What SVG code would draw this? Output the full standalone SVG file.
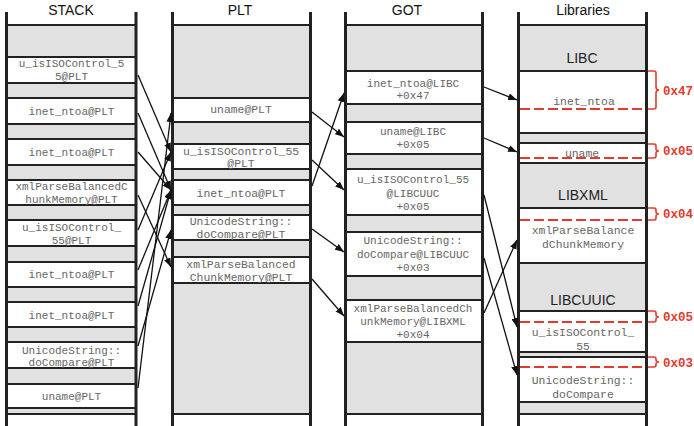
<svg xmlns="http://www.w3.org/2000/svg" width="694" height="426" viewBox="0 0 694 426">
  <style>
    .bg { fill: #e1e1e1; }
    .slot { fill: #ffffff; stroke: #222; stroke-width: 2; }
    .band { fill: #e1e1e1; stroke: #222; stroke-width: 2; }
    .wall { stroke: #222; stroke-width: 3; fill: none; }
    .rule { stroke: #222; stroke-width: 2; fill: none; }
    .head { font-family: "Liberation Sans", Arial, sans-serif; font-size: 14px; fill: #111; text-anchor: middle; }
    .lib { font-family: "Liberation Sans", Arial, sans-serif; font-size: 14px; fill: #222; text-anchor: middle; }
    .mono { font-family: "Liberation Mono", "Courier New", monospace; font-size: 11px; fill: #666; text-anchor: middle; }
    .mono12 { font-family: "Liberation Mono", "Courier New", monospace; font-size: 11.4px; fill: #666; text-anchor: middle; }
    .off { font-family: "Liberation Mono", "Courier New", monospace; font-size: 12.5px; font-weight: bold; fill: #e33a2c; }
    .dash { stroke: #e33a2c; stroke-width: 2; stroke-dasharray: 10 4; fill: none; }
    .brace { stroke: #e33a2c; stroke-width: 1.6; fill: none; }
    .conn { stroke: #111; stroke-width: 1.3; fill: none; marker-end: url(#arrow); }
  </style>
  <defs>
    <marker id="arrow" markerUnits="userSpaceOnUse" markerWidth="9" markerHeight="7" refX="9" refY="3.5" orient="auto">
      <path d="M0,0 L9,3.5 L0,7 z" fill="#111"/>
    </marker>
  </defs>

  <rect width="694" height="426" fill="#ffffff"/>

  <!-- column backgrounds -->
  <rect class="bg" x="7" y="25" width="129" height="389"/>
  <rect class="bg" x="172.5" y="25" width="138" height="389"/>
  <rect class="bg" x="345.5" y="25" width="137" height="389"/>
  <rect class="bg" x="518.5" y="25" width="128" height="389"/>

  <!-- headers -->
  <text class="head" x="71" y="15">STACK</text>
  <text class="head" x="240" y="15">PLT</text>
  <text class="head" x="407" y="15">GOT</text>
  <text class="head" x="583" y="15">Libraries</text>

  <!-- STACK slots -->
  <g id="stack-u_isISOControl-1">
    <rect class="slot" x="7" y="57" width="129" height="26"/>
    <text class="mono" x="71.5" y="67">u_isISOControl_5</text>
    <text class="mono" x="71.5" y="80">5@PLT</text>
  </g>
  <g id="stack-inet_ntoa-1">
    <rect class="slot" x="7" y="98" width="129" height="26"/>
    <text class="mono" x="71.5" y="115">inet_ntoa@PLT</text>
  </g>
  <g id="stack-inet_ntoa-2">
    <rect class="slot" x="7" y="139" width="129" height="26"/>
    <text class="mono" x="71.5" y="156">inet_ntoa@PLT</text>
  </g>
  <g id="stack-xmlParse">
    <rect class="slot" x="7" y="180" width="129" height="25"/>
    <text class="mono" x="71.5" y="190">xmlParseBalancedC</text>
    <text class="mono" x="71.5" y="203">hunkMemory@PLT</text>
  </g>
  <g id="stack-u_isISOControl-2">
    <rect class="slot" x="7" y="220" width="129" height="26"/>
    <text class="mono" x="71.5" y="231">u_isISOControl_</text>
    <text class="mono" x="71.5" y="244">55@PLT</text>
  </g>
  <g id="stack-inet_ntoa-3">
    <rect class="slot" x="7" y="262" width="129" height="25"/>
    <text class="mono" x="71.5" y="278">inet_ntoa@PLT</text>
  </g>
  <g id="stack-inet_ntoa-4">
    <rect class="slot" x="7" y="302" width="129" height="25"/>
    <text class="mono" x="71.5" y="319">inet_ntoa@PLT</text>
  </g>
  <g id="stack-doCompare">
    <rect class="slot" x="7" y="342" width="129" height="26"/>
    <text class="mono" x="71.5" y="354">UnicodeString::</text>
    <text class="mono" x="71.5" y="366">doCompare@PLT</text>
  </g>
  <g id="stack-uname">
    <rect class="slot" x="7" y="384" width="129" height="24"/>
    <text class="mono" x="71.5" y="400">uname@PLT</text>
  </g>

  <!-- PLT slots -->
  <g id="plt-uname">
    <rect class="slot" x="172.5" y="98" width="138" height="24"/>
    <text class="mono12" x="241" y="113">uname@PLT</text>
  </g>
  <g id="plt-u_isISOControl">
    <rect class="slot" x="172.5" y="144" width="138" height="25"/>
    <text class="mono12" x="241" y="154.5">u_isISOControl_55</text>
    <text class="mono12" x="241" y="167">@PLT</text>
  </g>
  <g id="plt-inet_ntoa">
    <rect class="slot" x="172.5" y="180" width="138" height="25"/>
    <text class="mono12" x="241" y="197">inet_ntoa@PLT</text>
  </g>
  <g id="plt-doCompare">
    <rect class="slot" x="172.5" y="215" width="138" height="25"/>
    <text class="mono12" x="241" y="225">UnicodeString::</text>
    <text class="mono12" x="241" y="238">doCompare@PLT</text>
  </g>
  <g id="plt-xmlParse">
    <rect class="slot" x="172.5" y="257" width="138" height="26"/>
    <text class="mono12" x="241" y="268">xmlParseBalanced</text>
    <text class="mono12" x="241" y="281">ChunkMemory@PLT</text>
  </g>

  <!-- GOT slots -->
  <g id="got-inet_ntoa">
    <rect class="slot" x="345.5" y="71" width="137" height="33"/>
    <text class="mono" x="413" y="87">inet_ntoa@LIBC</text>
    <text class="mono" x="413" y="99">+0x47</text>
  </g>
  <g id="got-uname">
    <rect class="slot" x="345.5" y="122" width="137" height="32"/>
    <text class="mono" x="413" y="135">uname@LIBC</text>
    <text class="mono" x="413" y="148">+0x05</text>
  </g>
  <g id="got-u_isISOControl">
    <rect class="slot" x="345.5" y="169" width="137" height="46"/>
    <text class="mono" x="413" y="183">u_isISOControl_55</text>
    <text class="mono" x="413" y="196.5">@LIBCUUC</text>
    <text class="mono" x="413" y="209.5">+0x05</text>
  </g>
  <g id="got-doCompare">
    <rect class="slot" x="345.5" y="232" width="137" height="44"/>
    <text class="mono" x="413" y="244">UnicodeString::</text>
    <text class="mono" x="413" y="258">doCompare@LIBCUUC</text>
    <text class="mono" x="413" y="271">+0x03</text>
  </g>
  <g id="got-xmlParse">
    <rect class="slot" x="345.5" y="300" width="137" height="42"/>
    <text class="mono" x="413" y="312">xmlParseBalancedCh</text>
    <text class="mono" x="413" y="325">unkMemory@LIBXML</text>
    <text class="mono" x="413" y="338">+0x04</text>
  </g>

  <!-- Libraries -->
  <g id="lib-libc">
    <text class="lib" x="582" y="63">LIBC</text>
    <rect class="slot" x="518.5" y="71" width="128" height="62"/>
    <text class="mono12" x="584" y="105">inet_ntoa</text>
    <line class="dash" x1="520" y1="109" x2="645" y2="109"/>
    <rect class="band" x="518.5" y="133" width="128" height="10"/>
    <rect class="slot" x="518.5" y="143" width="128" height="20"/>
    <text class="mono12" x="582" y="157">uname</text>
    <line class="dash" x1="520" y1="158" x2="645" y2="158"/>
  </g>
  <g id="lib-libxml">
    <text class="lib" x="583" y="200">LIBXML</text>
    <rect class="slot" x="518.5" y="208" width="128" height="55"/>
    <line class="dash" x1="520" y1="220" x2="645" y2="220"/>
    <text class="mono12" x="583" y="234">xmlParseBalance</text>
    <text class="mono12" x="583" y="248">dChunkMemory</text>
  </g>
  <g id="lib-libcuuic">
    <text class="lib" x="583" y="305">LIBCUUIC</text>
    <rect class="slot" x="518.5" y="311" width="128" height="41"/>
    <line class="dash" x1="520" y1="322" x2="645" y2="322"/>
    <text class="mono12" x="583" y="336">u_isISOControl_</text>
    <text class="mono12" x="583" y="349.5">55</text>
    <rect class="band" x="518.5" y="352" width="128" height="5"/>
    <rect class="slot" x="518.5" y="357" width="128" height="45"/>
    <line class="dash" x1="520" y1="367" x2="645" y2="367"/>
    <text class="mono12" x="583" y="384">UnicodeString::</text>
    <text class="mono12" x="583" y="398">doCompare</text>
  </g>

  <!-- offset braces -->
  <g id="offsets">
    <path class="brace" d="M648,71 H654 Q656,71 656,73 V87 Q656,90 659,90 Q656,90 656,93 V107 Q656,109 654,109 H648"/>
    <text class="off" x="663" y="95">0x47</text>
    <path class="brace" d="M648,144 H654 Q656,144 656,146 V149 Q656,151 659,151 Q656,151 656,153 V156 Q656,158 654,158 H648"/>
    <text class="off" x="663" y="155">0x05</text>
    <path class="brace" d="M648,208 H654 Q656,208 656,210 V212 Q656,214 659,214 Q656,214 656,216 V218 Q656,220 654,220 H648"/>
    <text class="off" x="663" y="218">0x04</text>
    <path class="brace" d="M648,311 H654 Q656,311 656,313 V315 Q656,317 659,317 Q656,317 656,319 V320 Q656,322 654,322 H648"/>
    <text class="off" x="663" y="321">0x05</text>
    <path class="brace" d="M648,357 H654 Q656,357 656,359 V360 Q656,362 659,362 Q656,362 656,364 V365 Q656,367 654,367 H648"/>
    <text class="off" x="663" y="367">0x03</text>
  </g>

  <!-- column frames -->
  <g id="frames">
    <line class="rule" x1="6.5" y1="25" x2="136" y2="25"/>
    <line class="rule" x1="6.5" y1="414" x2="136" y2="414"/>
    <line class="rule" x1="172.5" y1="25" x2="310.5" y2="25"/>
    <line class="rule" x1="172.5" y1="414" x2="310.5" y2="414"/>
    <line class="rule" x1="345.5" y1="25" x2="482.5" y2="25"/>
    <line class="rule" x1="345.5" y1="414" x2="482.5" y2="414"/>
    <line class="rule" x1="518.5" y1="25" x2="646.5" y2="25"/>
    <line class="rule" x1="518.5" y1="414" x2="646.5" y2="414"/>
    <line class="wall" x1="6.5" y1="12" x2="6.5" y2="426"/>
    <line class="wall" x1="136" y1="12" x2="136" y2="426"/>
    <line class="wall" x1="172.5" y1="12" x2="172.5" y2="426"/>
    <line class="wall" x1="310.5" y1="12" x2="310.5" y2="426"/>
    <line class="wall" x1="345.5" y1="12" x2="345.5" y2="426"/>
    <line class="wall" x1="482.5" y1="12" x2="482.5" y2="426"/>
    <line class="wall" x1="518.5" y1="12" x2="518.5" y2="426"/>
    <line class="wall" x1="646.5" y1="12" x2="646.5" y2="426"/>
  </g>

  <!-- connectors -->
  <g id="connectors">
    <line class="conn" x1="138" y1="75" x2="171" y2="152"/>
    <line class="conn" x1="138" y1="113" x2="171" y2="190"/>
    <line class="conn" x1="138" y1="152" x2="171" y2="190"/>
    <line class="conn" x1="138" y1="195" x2="171" y2="267"/>
    <line class="conn" x1="138" y1="230" x2="171" y2="152"/>
    <line class="conn" x1="138" y1="270" x2="171" y2="190"/>
    <line class="conn" x1="138" y1="306" x2="171" y2="190"/>
    <line class="conn" x1="138" y1="346" x2="171" y2="230"/>
    <line class="conn" x1="138" y1="388" x2="171" y2="113"/>

    <line class="conn" x1="312" y1="112" x2="344" y2="137"/>
    <line class="conn" x1="312" y1="160" x2="344" y2="190"/>
    <line class="conn" x1="312" y1="186" x2="344" y2="93"/>
    <line class="conn" x1="312" y1="229" x2="344" y2="252"/>
    <line class="conn" x1="312" y1="279" x2="344" y2="316"/>

    <line class="conn" x1="484" y1="87" x2="517" y2="100"/>
    <line class="conn" x1="484" y1="138" x2="517" y2="152"/>
    <line class="conn" x1="484" y1="195" x2="517" y2="327"/>
    <line class="conn" x1="484" y1="258" x2="517" y2="375"/>
    <line class="conn" x1="484" y1="313" x2="517" y2="240"/>
  </g>
</svg>
